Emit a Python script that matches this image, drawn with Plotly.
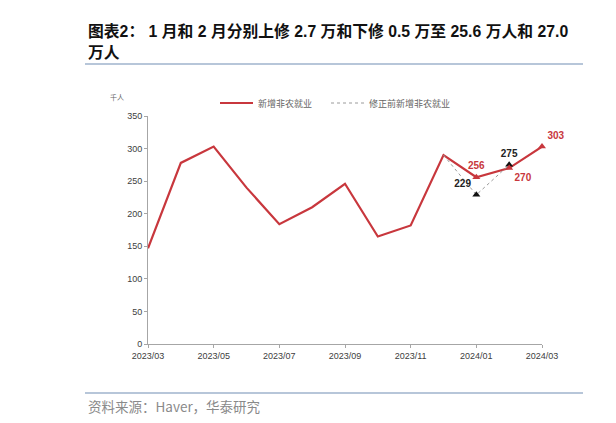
"""图表2: 新增非农就业及修正前数值 (Plotly recreation)."""

import plotly.graph_objects as go

months = ["2023/03", "2023/04", "2023/05", "2023/06", "2023/07", "2023/08", "2023/09",
          "2023/10", "2023/11", "2023/12", "2024/01", "2024/02", "2024/03"]
nfp = [147, 278, 303, 240, 184, 210, 246, 165, 182, 290, 256, 270, 303]
prev_months = ["2023/12", "2024/01", "2024/02"]
nfp_prev = [290, 229, 275]

tick_months = months[::2]
y_ticks = [0, 50, 100, 150, 200, 250, 300, 350]

_RED = "#C8373D"
_GRAY = "#404040"
_OFF = 8  # page body margin
_W, _H = 616 - _OFF, 423 - _OFF
_L, _R, _T, _B = 148, 542, 116, 344  # plot box in screen pixels


def px(x):
    return (x - _L) / (_R - _L)


def py(y):
    return (_B - y) / (_B - _T)


fig = go.Figure()
fig.add_trace(go.Scatter(
    x=months, y=nfp, mode="lines", name="新增非农就业\u3000",
    line=dict(color=_RED, width=2.2),
))
fig.add_trace(go.Scatter(
    x=prev_months, y=nfp_prev, mode="lines", name="修正前新增非农就业",
    line=dict(color="#9a9a9a", width=1, dash="dot"),
))
# labelled points
fig.add_trace(go.Scatter(
    x=prev_months[1:], y=nfp_prev[1:], mode="markers+text",
    text=[str(v) for v in nfp_prev[1:]], textposition=["top left", "top center"],
    marker=dict(symbol="triangle-up", size=7, color="#111111"),
    textfont=dict(family="Liberation Sans, Arial", size=10, color="#222222", weight="bold"),
    showlegend=False, cliponaxis=False,
))
fig.add_trace(go.Scatter(
    x=months[-3:], y=nfp[-3:], mode="markers+text",
    text=[str(v) for v in nfp[-3:]], textposition=["top center", "bottom right", "top right"],
    marker=dict(symbol="triangle-up", size=7, color=_RED),
    textfont=dict(family="Liberation Sans, Arial", size=10, color=_RED, weight="bold"),
    showlegend=False, cliponaxis=False,
))

fig.update_layout(
    width=_W, height=_H, template="plotly_white",
    paper_bgcolor="white", plot_bgcolor="white",
    margin=dict(l=_L - _OFF, r=_W - (_R - _OFF), t=_T - _OFF, b=_H - (_B - _OFF)),
    font=dict(family="Liberation Sans, Arial", size=9, color=_GRAY),
    legend=dict(orientation="h", x=px(215), y=py(103), xanchor="left", yanchor="middle",
                font=dict(family="Noto Sans CJK SC", size=9, color="#666666"),
                itemwidth=33, bgcolor="rgba(0,0,0,0)"),
    showlegend=True,
)
fig.update_xaxes(
    type="category", categoryorder="array", categoryarray=months,
    range=[0, len(months) - 1], tickvals=tick_months, ticktext=tick_months,
    showgrid=False, showline=True, linecolor="#a6a6a6", linewidth=1,
    ticks="outside", ticklen=3, tickcolor="#a6a6a6", tickangle=0,
    tickfont=dict(size=9, color=_GRAY), zeroline=False,
)
fig.update_yaxes(
    range=[0, 350], tickvals=y_ticks, showgrid=False, showline=True,
    linecolor="#a6a6a6", linewidth=1, ticks="outside", ticklen=3, tickcolor="#a6a6a6",
    tickfont=dict(size=9, color=_GRAY), zeroline=False,
)

title_font = dict(family="Liberation Sans, Noto Sans CJK SC", size=15.8, color="#111111",
                  weight="bold")
fig.add_annotation(text="图表2： 1 月和 2 月分别上修 2.7 万和下修 0.5 万至 25.6 万人和 27.0",
                   x=px(86), y=py(31), xref="paper", yref="paper",
                   xanchor="left", yanchor="middle", showarrow=False, font=title_font)
fig.add_annotation(text="万人", x=px(86), y=py(53), xref="paper", yref="paper",
                   xanchor="left", yanchor="middle", showarrow=False, font=title_font)
fig.add_annotation(text="图", x=px(611), y=py(53), xref="paper", yref="paper",
                   xanchor="left", yanchor="middle", showarrow=False, font=title_font)
fig.add_annotation(text="千人", x=px(126), y=py(97), xref="paper", yref="paper",
                   xanchor="right", yanchor="middle", showarrow=False,
                   font=dict(family="Noto Sans CJK SC", size=7, color="#666666"))
src_font = dict(family="Noto Sans CJK SC", size=13.5, color="#8a8a8a")
fig.add_annotation(text="资料来源：Haver，华泰研究", x=px(86), y=py(406), xref="paper",
                   yref="paper", xanchor="left", yanchor="middle", showarrow=False,
                   font=src_font)
fig.add_annotation(text="资", x=px(610), y=py(406), xref="paper", yref="paper",
                   xanchor="left", yanchor="middle", showarrow=False, font=src_font)

for y0 in (64, 393):
    fig.add_shape(type="line", xref="paper", yref="paper", x0=px(85), x1=px(583),
                  y0=py(y0), y1=py(y0), line=dict(color="#9fb3cc", width=1.5))
    fig.add_shape(type="line", xref="paper", yref="paper", x0=px(612), x1=px(620),
                  y0=py(y0), y1=py(y0), line=dict(color="#9fb3cc", width=1.5))

fig.write_html("out.html")
